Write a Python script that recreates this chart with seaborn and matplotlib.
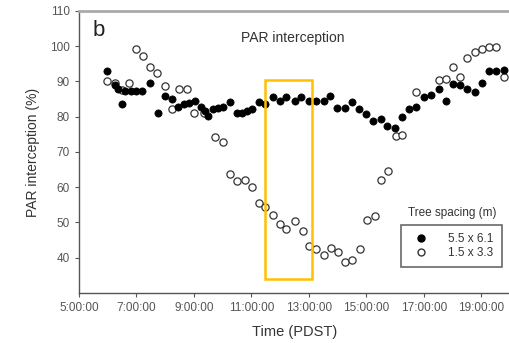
import numpy as np
import pandas as pd
import matplotlib
matplotlib.use("Agg")
import matplotlib.pyplot as plt
import seaborn as sns
from matplotlib.patches import Rectangle
from matplotlib.lines import Line2D

# saat (ondalik) ve PAR yakalama (%) - 5.5 x 6.1
wide_time = [5.97, 6.25, 6.35, 6.49, 6.6, 6.8, 7.0, 7.2, 7.47, 7.74, 7.99, 8.23, 8.44,
             8.65, 8.82, 9.03, 9.24, 9.38, 9.48, 9.65, 9.83, 10.0, 10.24, 10.49, 10.66,
             10.83, 11.01, 11.25, 11.49, 11.74, 11.98, 12.22, 12.5, 12.74, 12.99, 13.26,
             13.51, 13.75, 13.99, 14.27, 14.51, 14.76, 15.0, 15.24, 15.52, 15.73, 16.0,
             16.25, 16.49, 16.74, 17.01, 17.26, 17.53, 17.78, 18.02, 18.26, 18.5, 18.78,
             19.03, 19.27, 19.51, 19.79]
wide_par = [93.1, 88.9, 88.0, 83.5, 87.2, 87.2, 87.2, 87.2, 89.7, 81.2, 86.0, 84.9, 82.9,
            83.5, 83.8, 84.4, 82.7, 81.5, 80.1, 82.1, 82.4, 82.9, 84.1, 81.0, 81.2,
            81.5, 82.1, 84.1, 83.5, 85.5, 84.4, 85.5, 84.4, 85.5, 84.6, 84.6,
            84.4, 85.8, 82.4, 82.4, 84.1, 82.1, 80.7, 78.7, 79.3, 77.3, 76.7,
            79.8, 82.1, 82.7, 85.5, 86.3, 88.0, 84.6, 89.4, 88.9, 88.0, 86.9,
            89.7, 93.1, 93.1, 93.4]

# 1.5 x 3.3
dense_time = [5.97, 6.25, 6.49, 6.74, 6.98, 7.22, 7.47, 7.71, 7.99, 8.23, 8.47, 8.75,
              8.99, 9.34, 9.72, 10.0, 10.24, 10.49, 10.76, 11.01, 11.25, 11.49, 11.74,
              12.01, 12.22, 12.5, 12.78, 13.02, 13.26, 13.51, 13.78, 14.03, 14.27, 14.51,
              14.79, 15.03, 15.31, 15.52, 15.76, 16.04, 16.25, 16.74, 17.53, 17.78,
              18.02, 18.26, 18.51, 18.78, 19.03, 19.27, 19.51, 19.79]
dense_par = [90.0, 89.7, 87.7, 89.7, 99.3, 97.1, 94.0, 92.5, 88.6, 82.1, 88.0, 88.0,
             81.2, 81.2, 74.2, 72.8, 63.7, 61.8, 62.0, 60.1, 55.5, 54.4, 52.1,
             49.6, 48.2, 50.5, 47.6, 43.4, 42.5, 40.8, 42.8, 41.7, 38.9, 39.4,
             42.5, 50.7, 51.9, 62.0, 64.6, 74.5, 74.7, 86.9, 90.3, 90.8,
             94.0, 91.4, 96.8, 98.5, 99.3, 99.9, 99.9, 91.4]

xtick_hours = [5, 7, 9, 11, 13, 15, 17, 19]
xtick_labels = ["5:00:00", "7:00:00", "9:00:00", "11:00:00", "13:00:00",
                "15:00:00", "17:00:00", "19:00:00"]

sns.set_style("ticks")
plt.rcParams["font.family"] = ["Liberation Sans", "DejaVu Sans"]

df_w = pd.DataFrame({"saat": wide_time, "par": wide_par})
df_d = pd.DataFrame({"saat": dense_time, "par": dense_par})

fig = plt.figure(figsize=(5.1, 3.43), dpi=100)
ax = fig.add_axes([79/510, 1 - 293/343, 431/510, (293 - 11)/343])

sns.scatterplot(data=df_d, x="saat", y="par", ax=ax, marker="o", s=27,
                facecolor="white", edgecolor="#333333", linewidth=0.9, zorder=3)
sns.scatterplot(data=df_w, x="saat", y="par", ax=ax, marker="o", s=27,
                color="black", edgecolor="black", linewidth=0.5, zorder=4)

ax.set_xlim(5, 20)
ax.set_ylim(30, 110)
ax.set_xticks(xtick_hours)
ax.set_xticklabels(xtick_labels)
ax.set_yticks(range(40, 111, 10))
ax.tick_params(labelsize=8.5, colors="#555555", length=3, width=0.8)
ax.set_xlabel("Time (PDST)", fontsize=10.5, color="#333333", labelpad=8)
ax.set_ylabel("PAR interception (%)", fontsize=10, color="#333333", labelpad=7)

for s in ["left", "bottom"]:
    ax.spines[s].set_color("#555555")
    ax.spines[s].set_linewidth(1.0)
ax.spines["top"].set_color("#aaaaaa")
ax.spines["top"].set_linewidth(2.0)
ax.spines["right"].set_visible(False)

ax.text(0.032, 0.93, "b", transform=ax.transAxes, fontsize=16, color="#222222",
        va="center", ha="left")
ax.text(0.495, 0.905, "PAR interception", transform=ax.transAxes, fontsize=10,
        color="#333333", ha="center", va="center")

# turuncu kutu
ax.add_patch(Rectangle((11.49, 34.1), 13.125 - 11.49, 90.3 - 34.1, fill=False,
                       edgecolor="#FFC000", linewidth=1.8, zorder=5))

# lejant
handles = [Line2D([], [], marker="o", ls="", color="black", markersize=5),
           Line2D([], [], marker="o", ls="", markerfacecolor="white",
                  markeredgecolor="#333333", markersize=5)]
leg = ax.legend(handles, ["5.5 x 6.1", "1.5 x 3.3"], loc="upper left",
                bbox_to_anchor=((401 - 79)/431, 1 - (225 - 11)/282),
                fontsize=8.5, frameon=True, fancybox=False, handletextpad=1.3,
                borderpad=0.7, labelspacing=0.15, handlelength=2.0,
                borderaxespad=0, labelcolor="#333333")
leg.get_frame().set_edgecolor("#444444")
leg.get_frame().set_linewidth(1.2)
ax.text((452 - 79)/431, 1 - (213 - 11)/282, "Tree spacing (m)", transform=ax.transAxes,
        fontsize=8.5, color="#333333", ha="center", va="center")

fig.savefig("out.png", dpi=100)
